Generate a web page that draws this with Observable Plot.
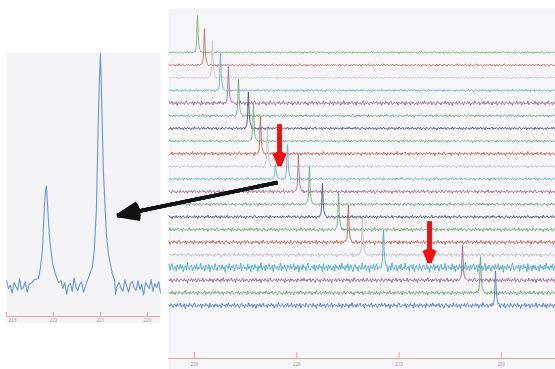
<!DOCTYPE html>
<html><head><meta charset="utf-8">
<script src="https://cdn.jsdelivr.net/npm/d3@7"></script>
<script src="https://cdn.jsdelivr.net/npm/@observablehq/plot@0.6"></script>
<style>
html,body{margin:0;padding:0;background:#fff;}
#wrap{position:relative;width:555px;height:369px;overflow:hidden;font-family:"DejaVu Sans",sans-serif;}
#inset{position:absolute;left:6px;top:52px;z-index:0;}
#main{position:absolute;left:0;top:0;z-index:1;}
</style></head><body>
<div id="wrap"><div id="inset"></div><div id="main"></div></div>
<script>
// ---- data ----
const traceColors = ["#78a878","#b86a66","#c6c6ca","#62b0cc","#a06a8c","#70a47a","#404c70",
  "#7aaa80","#b8604e","#c6c6ca","#64b4cc","#a06a8c","#70a47a","#404c70",
  "#6aa478","#b8604e","#c4c4c8","#4aa8c4","#9a608a","#68a070","#4a78c4"];
const peakPositions = [[229.71],[229.03],[228.25],[227.46],[226.68],[225.70],[224.73],
  [224.24],[223.55],[222.87],[222.08,220.91],[219.84],[218.76],[217.49],
  [215.92],[214.95],[213.58],[211.52],[203.79],[202.03],[200.57]];
const peakHeights = [[2.9],[2.9],[2.9],[2.9],[2.9],[2.9],[2.9],
  [2.9],[2.9],[3.0],[1.26,2.77],[2.9],[2.9],[2.6],
  [2.9],[2.9],[2.9],[2.9],[2.8],[2.9],[2.7]];
const noiseAmps = [0.1,0.11,0.1,0.12,0.22,0.13,0.14,0.13,0.17,0.13,0.14,0.17,0.15,0.15,
  0.18,0.2,0.17,0.42,0.22,0.2,0.26];
const noise = [
 0.2,-0.5,0.4,-0.1,0.7,-0.6,0.1,0.5,-0.3,-0.8,
 0.3,0.6,-0.2,0.1,-0.7,0.4,0.0,-0.4,0.8,-0.3,
 -0.1,0.5,-0.6,0.2,0.3,-0.9,0.4,0.1,-0.2,0.6,
 -0.5,0.3,0.7,-0.4,-0.1,0.2,-0.7,0.5,0.0,-0.3,
 0.6,-0.2,0.4,-0.8,0.1,0.3,-0.5,0.9,-0.1,-0.4,
 0.2,0.5,-0.6,0.0,0.4,-0.3,0.7,-0.5,0.1,-0.2,
 0.8,-0.4,-0.1,0.3,-0.7,0.5,0.2,-0.3,0.6,-0.8,
 0.1,0.4,-0.2,-0.5,0.7,0.0,-0.6,0.3,0.5,-0.1,
 -0.4,0.6,-0.3,0.2,-0.9,0.4,0.1,-0.2,0.7,-0.5,
 0.3,-0.1,0.5,-0.7,0.2,0.6,-0.4,0.0,-0.3,0.8,
 -0.6,0.2,0.4,-0.2,0.1,-0.5,0.7,-0.3,0.3,-0.8,
 0.5,0.0,-0.4,0.6,-0.1,0.2,-0.7,0.4,-0.2,0.9,
 -0.5,0.1,0.3,-0.6,0.5,-0.3,0.2,0.7,-0.4,-0.1,
 0.4,-0.8,0.6,0.0,-0.2,0.3,-0.5,0.1,0.8,-0.6,
 0.2,-0.3,0.5,-0.1,-0.7,0.4,0.3,-0.4,0.6,-0.2,
 0.0,0.7,-0.5,0.2,-0.3,0.5,-0.9,0.3,0.1,-0.4,
 0.6,-0.1,0.2,-0.6,0.4,0.8,-0.3,-0.5,0.1,0.3,
 -0.2,0.5,-0.7,0.4,0.0,-0.3,0.6,-0.1,0.2,-0.8,
 0.7,-0.4,0.1,0.3,-0.6,0.5,-0.2,0.4,-0.5,0.0,
 0.3,-0.7,0.6,-0.1,0.2,-0.4,0.5,-0.3,0.8,-0.2];
const profileOffsets = [-0.3,-0.255,-0.17,-0.128,-0.064,-0.021,0,0.02,0.043,0.085,0.128,0.17,0.255,0.3];
const profileValues  = [0.04,0.066,0.14,0.21,0.49,0.86,1,0.92,0.75,0.34,0.17,0.09,0.03,0.02];
const mainTicks = [230,220,210,200];
const insetTicks = [223,222,221,220];
const insetPeaks = [222.15,221.0];
const insetHeights = [0.45,1.0];
const insetNoiseAmp = 0.042;
const redArrows = [{x1:221.69,y1:14.31,x2:221.69,y2:11.07},{x1:207.02,y1:6.64,x2:207.02,y2:3.40}];
const blackArrows = [{x1:221.89,y1:9.72,x2:237.54,y2:7.11}];

// ---- build series ----
const mainStep = 0.1, xLeft = 232.5, xRight = 194.75;
const mainData = [];
traceColors.forEach((color, i) => {
  const base = 20 - i, amp = noiseAmps[i], pts = [];
  const n = Math.round((xLeft - xRight) / mainStep) + 1;
  for (let k = 0; k < n; k++) {
    const x = xLeft - k * mainStep;
    if (peakPositions[i].some(p => Math.abs(x - p) < 0.31)) continue;
    pts.push({x, y: base + amp * noise[(k + i * 37) % noise.length], t: i, color});
  }
  peakPositions[i].forEach((p, j) => {
    profileOffsets.forEach((o, m) => {
      pts.push({x: p + o, y: base + peakHeights[i][j] * profileValues[m] + 0.5 * amp * noise[(m * 7 + i * 13) % noise.length], t: i, color});
    });
  });
  pts.sort((a, b) => b.x - a.x);
  mainData.push(...pts);
});

const insetStep = 0.04, iLeft = 223.0, iRight = 219.72;
const insetData = [];
{
  const n = Math.round((iLeft - iRight) / insetStep) + 1;
  for (let k = 0; k < n; k++) {
    const x = iLeft - k * insetStep;
    if (insetPeaks.some(p => Math.abs(x - p) < 0.31)) continue;
    insetData.push({x, y: insetNoiseAmp * noise[(k + 11) % noise.length]});
  }
  insetPeaks.forEach((p, j) => profileOffsets.forEach((o, m) => {
    insetData.push({x: p + o, y: insetHeights[j] * profileValues[m] + 0.5 * insetNoiseAmp * noise[(m * 5 + j * 17) % noise.length]});
  }));
  insetData.sort((a, b) => b.x - a.x);
}

// ---- main panel ----
const axisY = -4.19, tickTop = -3.715, labelY = -4.664;
function arrowLayers(data, color, sw, hl, angles) {
  return angles.map(a => Plot.arrow(data, {x1: "x1", y1: "y1", x2: "x2", y2: "y2",
    stroke: color, strokeWidth: sw, headLength: hl, headAngle: a, strokeLinejoin: "miter", strokeLinecap: "butt"}));
}
const main = Plot.plot({
  width: 555, height: 369,
  marginLeft: 168, marginRight: 0, marginTop: 8, marginBottom: 0,
  style: {background: "transparent", overflow: "visible"},
  x: {domain: [232.55, 194.7], axis: null},
  y: {domain: [-5.059, 23.478], axis: null},
  color: {type: "identity"},
  marks: [
    Plot.frame({fill: "#f6f6f8", stroke: "none"}),
    Plot.ruleY([axisY], {stroke: "#eea0a0", strokeWidth: 1}),
    Plot.ruleX(mainTicks, {y1: axisY, y2: tickTop, stroke: "#eea0a0", strokeWidth: 1}),
    Plot.text(mainTicks, {x: d => d, y: labelY, text: d => String(d), fontSize: 4.5, fill: "#999"}),
    Plot.line(mainData, {x: "x", y: "y", z: "t", stroke: "color", strokeWidth: 0.85, curve: "linear"}),
    ...arrowLayers(blackArrows, "#111", 3.6, 9.6, [42, 30, 18, 6]),
    ...arrowLayers(redArrows, "#f01010", 4, 5, [46, 32, 18, 6])
  ]
});
document.getElementById("main").appendChild(main);

// ---- inset panel ----
const inset = Plot.plot({
  width: 154, height: 271,
  marginLeft: 0, marginRight: 0, marginTop: 0, marginBottom: 0,
  style: {background: "transparent", overflow: "visible"},
  x: {domain: [223.0, 219.72], axis: null},
  y: {domain: [-0.1616, 1.0218], axis: null},
  marks: [
    Plot.frame({fill: "#f4f4f7", stroke: "none"}),
    Plot.ruleY([-0.131], {stroke: "#eea0a0", strokeWidth: 1}),
    Plot.ruleX(insetTicks, {y1: -0.131, y2: -0.1135, stroke: "#eea0a0", strokeWidth: 1}),
    Plot.text(insetTicks.slice(1), {x: d => d, y: -0.148, text: d => String(d), fontSize: 4.5, fill: "#999"}),
    Plot.text(insetTicks.slice(0, 1), {x: d => d, y: -0.148, text: d => String(d), fontSize: 4.5, fill: "#999", textAnchor: "start", dx: 2})
  ].concat([Plot.line(insetData, {x: "x", y: "y", stroke: "#6a96d4", strokeWidth: 1.1})])
});
document.getElementById("inset").appendChild(inset);
</script>
</body></html>
